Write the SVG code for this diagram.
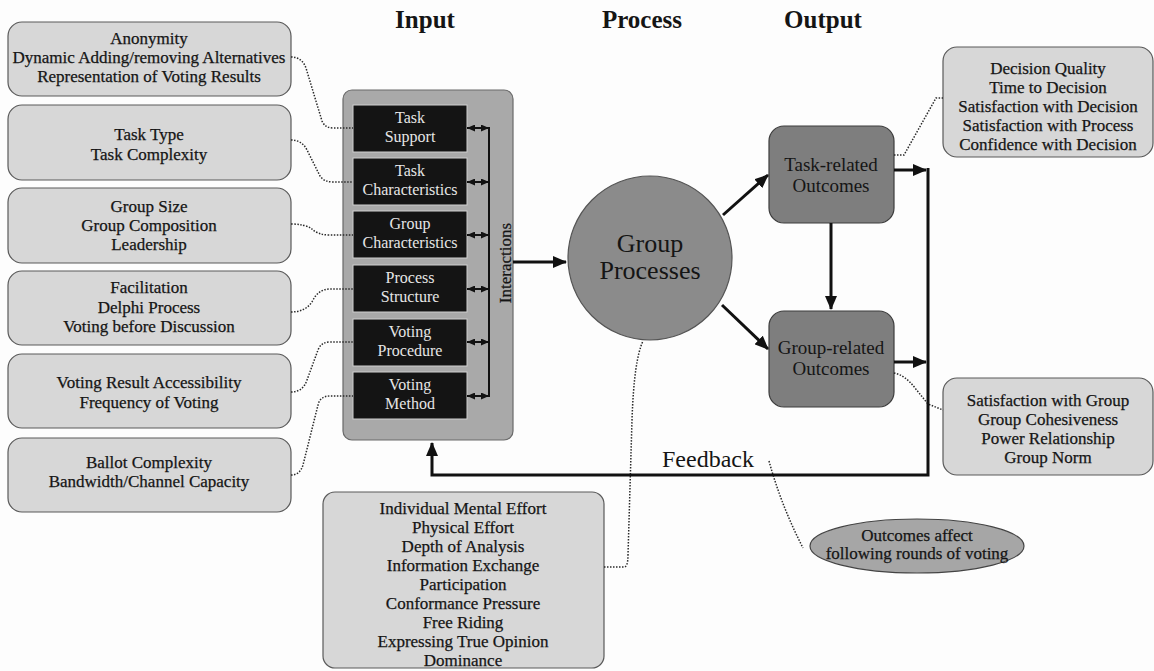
<svg xmlns="http://www.w3.org/2000/svg" width="1154" height="671" viewBox="0 0 1154 671">
  <defs>
    <style>
      text { font-family: "Liberation Serif", "Times New Roman", serif; fill: #151515; stroke: none; text-anchor: middle; }
      .title { font-size: 25px; font-weight: bold; }
      .note rect { fill: #d7d7d7; stroke: #5a5a5a; stroke-width: 1.2; }
      .note text, text.n17 { font-size: 17px; stroke: #151515; stroke-width: 0.25; }
      .blk { fill: #141414; stroke: #cfcfcf; stroke-width: 1; }
      .blk-t { font-size: 16px; fill: #e6e6e6; }
      .outc { fill: #7e7e7e; stroke: #3c3c3c; stroke-width: 1.2; }
      .dot { fill: none; stroke: #2a2a2a; stroke-width: 1.5; stroke-dasharray: 1.5 1.5; }
      .thick { fill: none; stroke: #111; stroke-width: 3; }
      .thin { fill: none; stroke: #111; stroke-width: 2; }
    </style>
    <marker id="head" viewBox="0 0 14 12" markerWidth="14" markerHeight="12" refX="13" refY="6" orient="auto" markerUnits="userSpaceOnUse">
      <path d="M0,0 L14,6 L0,12 z" fill="#111"/>
    </marker>
    <marker id="tip" viewBox="0 0 8 7" markerWidth="8" markerHeight="7" refX="8" refY="3.5" orient="auto-start-reverse" markerUnits="userSpaceOnUse">
      <path d="M0,0 L8,3.5 L0,7 z" fill="#111"/>
    </marker>
  </defs>

  <rect width="1154" height="671" fill="#fdfdfd"/>

  <!-- column headings -->
  <g id="headings">
    <text class="title" x="425" y="28">Input</text>
    <text class="title" x="642" y="28">Process</text>
    <text class="title" x="823" y="28">Output</text>
  </g>

  <!-- factor notes on the left -->
  <g id="note-support" class="note">
    <rect x="8" y="22" width="283" height="74" rx="14"/>
    <text x="149" y="44">Anonymity</text>
    <text x="149" y="63">Dynamic Adding/removing Alternatives</text>
    <text x="149" y="82">Representation of Voting Results</text>
  </g>
  <g id="note-task" class="note">
    <rect x="8" y="105" width="283" height="75" rx="14"/>
    <text x="149" y="140">Task Type</text>
    <text x="149" y="160">Task Complexity</text>
  </g>
  <g id="note-group" class="note">
    <rect x="8" y="188" width="283" height="75" rx="14"/>
    <text x="149" y="212">Group Size</text>
    <text x="149" y="231">Group Composition</text>
    <text x="149" y="250">Leadership</text>
  </g>
  <g id="note-structure" class="note">
    <rect x="8" y="271" width="283" height="74" rx="14"/>
    <text x="149" y="293">Facilitation</text>
    <text x="149" y="313">Delphi Process</text>
    <text x="149" y="332">Voting before Discussion</text>
  </g>
  <g id="note-procedure" class="note">
    <rect x="8" y="354" width="283" height="74" rx="14"/>
    <text x="149" y="388">Voting Result Accessibility</text>
    <text x="149" y="408">Frequency of Voting</text>
  </g>
  <g id="note-method" class="note">
    <rect x="8" y="438" width="283" height="74" rx="14"/>
    <text x="149" y="468">Ballot Complexity</text>
    <text x="149" y="487">Bandwidth/Channel Capacity</text>
  </g>

  <!-- input block -->
  <g id="input">
    <rect x="343" y="90" width="170" height="350" rx="9" fill="#a9a9a9" stroke="#6a6a6a" stroke-width="1.2"/>
    <text class="n17" transform="translate(511,263) rotate(-90)">Interactions</text>
  </g>
  <g id="task-support">
    <rect class="blk" x="353" y="105" width="114" height="47"/>
    <text class="blk-t" x="410" y="123">Task</text>
    <text class="blk-t" x="410" y="142">Support</text>
  </g>
  <g id="task-characteristics">
    <rect class="blk" x="353" y="158" width="114" height="47"/>
    <text class="blk-t" x="410" y="176">Task</text>
    <text class="blk-t" x="410" y="195">Characteristics</text>
  </g>
  <g id="group-characteristics">
    <rect class="blk" x="353" y="211" width="114" height="47"/>
    <text class="blk-t" x="410" y="229">Group</text>
    <text class="blk-t" x="410" y="248">Characteristics</text>
  </g>
  <g id="process-structure">
    <rect class="blk" x="353" y="265" width="114" height="47"/>
    <text class="blk-t" x="410" y="283">Process</text>
    <text class="blk-t" x="410" y="302">Structure</text>
  </g>
  <g id="voting-procedure">
    <rect class="blk" x="353" y="319" width="114" height="47"/>
    <text class="blk-t" x="410" y="337">Voting</text>
    <text class="blk-t" x="410" y="356">Procedure</text>
  </g>
  <g id="voting-method">
    <rect class="blk" x="353" y="372" width="114" height="47"/>
    <text class="blk-t" x="410" y="390">Voting</text>
    <text class="blk-t" x="410" y="409">Method</text>
  </g>

  <!-- process -->
  <g id="group-processes">
    <circle cx="650" cy="258" r="82" fill="#8b8b8b" stroke="#555" stroke-width="1.2"/>
    <text x="650" y="252" font-size="26">Group</text>
    <text x="650" y="279" font-size="26">Processes</text>
  </g>

  <!-- outcomes -->
  <g id="task-outcomes">
    <rect class="outc" x="769" y="126" width="125" height="97" rx="15"/>
    <text x="831" y="171" font-size="19">Task-related</text>
    <text x="831" y="192" font-size="19">Outcomes</text>
  </g>
  <g id="group-outcomes">
    <rect class="outc" x="769" y="311" width="125" height="96" rx="15"/>
    <text x="831" y="354" font-size="19">Group-related</text>
    <text x="831" y="375" font-size="19">Outcomes</text>
  </g>

  <g id="note-task-outcomes" class="note">
    <rect x="943" y="47" width="210" height="110" rx="14"/>
    <text x="1048" y="74">Decision Quality</text>
    <text x="1048" y="93">Time to Decision</text>
    <text x="1048" y="112">Satisfaction with Decision</text>
    <text x="1048" y="131">Satisfaction with Process</text>
    <text x="1048" y="150">Confidence with Decision</text>
  </g>
  <g id="note-group-outcomes" class="note">
    <rect x="943" y="378" width="210" height="97" rx="14"/>
    <text x="1048" y="406">Satisfaction with Group</text>
    <text x="1048" y="425">Group Cohesiveness</text>
    <text x="1048" y="444">Power Relationship</text>
    <text x="1048" y="463">Group Norm</text>
  </g>

  <g id="note-process" class="note">
    <rect x="323" y="492" width="281" height="176" rx="12"/>
    <text x="463" y="514">Individual Mental Effort</text>
    <text x="463" y="533">Physical Effort</text>
    <text x="463" y="552">Depth of Analysis</text>
    <text x="463" y="571">Information Exchange</text>
    <text x="463" y="590">Participation</text>
    <text x="463" y="609">Conformance Pressure</text>
    <text x="463" y="628">Free Riding</text>
    <text x="463" y="647">Expressing True Opinion</text>
    <text x="463" y="666">Dominance</text>
  </g>

  <g id="feedback-label">
    <text x="662" y="467" font-size="24" style="text-anchor:start">Feedback</text>
  </g>

  <g id="note-feedback">
    <ellipse cx="917" cy="546" rx="107" ry="27" fill="#a6a6a6" stroke="#444" stroke-width="1.2"/>
    <text class="n17" x="917" y="541">Outcomes affect</text>
    <text class="n17" x="917" y="559">following rounds of voting</text>
  </g>

  <!-- connectors -->
  <g id="connectors">
    <!-- dotted links from notes -->
    <path class="dot" d="M291,57 Q302,57 306,68 L322,121 Q325,128 333,128 L353,128"/>
    <path class="dot" d="M291,140 Q302,140 307,150 L320,176 Q324,182 333,182 L353,182"/>
    <path class="dot" d="M291,224 Q305,224 312,229 Q318,235 330,235 L353,235"/>
    <path class="dot" d="M291,312 Q305,312 312,302 Q318,289 330,289 L353,289"/>
    <path class="dot" d="M291,392 Q303,392 307,380 L318,350 Q321,342 330,342 L353,342"/>
    <path class="dot" d="M291,475 Q300,475 303,465 L318,405 Q320,396 330,396 L353,396"/>
    <path class="dot" d="M894,155 L904,155 L936,98 L943,98"/>
    <path class="dot" d="M894,373 Q905,375 915,388 L928,404 L943,410"/>
    <path class="dot" d="M604,567 L624,567 Q628,567 628,555 L632,420 Q634,360 643,341"/>
    <path class="dot" d="M769,461 Q781,505 803,548" stroke-dasharray="2 6"/>

    <!-- interactions between input factors -->
    <path class="thin" d="M489,127 V397"/>
    <line class="thin" x1="467" y1="128" x2="489" y2="128" marker-start="url(#tip)" marker-end="url(#tip)"/>
    <line class="thin" x1="467" y1="182" x2="489" y2="182" marker-start="url(#tip)" marker-end="url(#tip)"/>
    <line class="thin" x1="467" y1="235" x2="489" y2="235" marker-start="url(#tip)" marker-end="url(#tip)"/>
    <line class="thin" x1="467" y1="289" x2="489" y2="289" marker-start="url(#tip)" marker-end="url(#tip)"/>
    <line class="thin" x1="467" y1="342" x2="489" y2="342" marker-start="url(#tip)" marker-end="url(#tip)"/>
    <line class="thin" x1="467" y1="396" x2="489" y2="396" marker-start="url(#tip)" marker-end="url(#tip)"/>

    <!-- main flow -->
    <path class="thick" d="M513,262 L566,262" marker-end="url(#head)"/>
    <path class="thick" d="M723,215 L768,175" marker-end="url(#head)"/>
    <path class="thick" d="M722,305 L768,349" marker-end="url(#head)"/>
    <path class="thick" d="M831,223 L831,309" marker-end="url(#head)"/>
    <path class="thick" d="M894,170 L926,170" marker-end="url(#head)"/>
    <path class="thick" d="M894,362 L926,362" marker-end="url(#head)"/>
    <path class="thick" d="M928,168 V475 H432 V443" marker-end="url(#head)"/>
  </g>
</svg>
